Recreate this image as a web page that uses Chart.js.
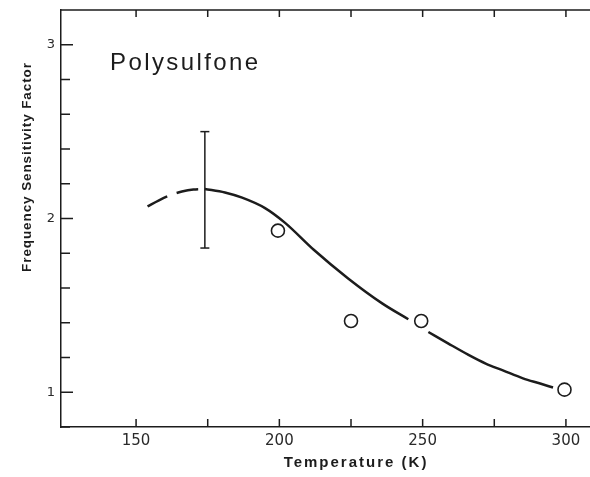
<!DOCTYPE html>
<html>
<head>
<meta charset="utf-8">
<script src="https://cdn.jsdelivr.net/npm/chart.js@4"></script>
<style>
  body { margin: 0; background: #fff; }
  #wrap { width: 590px; height: 477px; position: relative; }
</style>
</head>
<body>
<div id="wrap"><canvas id="chart"></canvas></div>
<script>
// --- data ---
const pointTemp = [199.5, 225, 249.5, 299.5];
const pointFactor = [1.93, 1.41, 1.41, 1.015];

const errTemp = [174, 174];
const errFactor = [1.83, 2.5];

// dashed (extrapolated) part of the fitted curve
const dashTemp = [154, 158, 162, 166, 170, 174];
const dashFactor = [2.07, 2.105, 2.135, 2.155, 2.167, 2.17];

// solid part, broken around the 250 K point
const solidTempA = [174, 181, 187, 195, 202, 212, 224, 236, 245];
const solidFactorA = [2.17, 2.15, 2.12, 2.06, 1.975, 1.82, 1.655, 1.51, 1.42];
const solidTempB = [252, 259, 266, 272, 278, 285, 291, 295.5];
const solidFactorB = [1.347, 1.28, 1.215, 1.165, 1.126, 1.08, 1.05, 1.027];

const xTicks = [150, 175, 200, 225, 250, 275, 300];
const xLabelled = [150, 200, 250, 300];
const yTicks = [0.8, 1.0, 1.2, 1.4, 1.6, 1.8, 2.0, 2.2, 2.4, 2.6, 2.8, 3.0, 3.2];
const yLabelled = [1, 2, 3];

const INK = '#1c1c1c';

function pts(xs, ys) { return xs.map((x, i) => ({ x: x, y: ys[i] })); }

// inward tick marks, top border and free text
const framePlugin = {
  id: 'frame',
  afterDraw(chart) {
    const { ctx, chartArea: a, scales } = chart;
    ctx.save();
    ctx.strokeStyle = INK;
    ctx.lineWidth = 1.5;
    ctx.beginPath();
    ctx.moveTo(a.left, a.top); ctx.lineTo(a.right, a.top);
    scales.x.ticks.forEach(t => {
      const px = scales.x.getPixelForValue(t.value);
      ctx.moveTo(px, a.bottom); ctx.lineTo(px, a.bottom - 8);
      ctx.moveTo(px, a.top); ctx.lineTo(px, a.top + 7);
    });
    scales.y.ticks.forEach(t => {
      const py = scales.y.getPixelForValue(t.value);
      const major = yLabelled.some(v => Math.abs(v - t.value) < 1e-6);
      ctx.moveTo(a.left, py); ctx.lineTo(a.left + (major ? 12 : 9), py);
    });
    ctx.stroke();

    ctx.fillStyle = INK;
    ctx.letterSpacing = '2.4px';
    ctx.font = '24px "Liberation Sans", Arial, sans-serif';
    ctx.textBaseline = 'alphabetic';
    ctx.textAlign = 'left';
    ctx.fillText('Polysulfone', 110, 70);

    ctx.letterSpacing = '2px';
    ctx.font = 'bold 15px "Liberation Sans", Arial, sans-serif';
    ctx.textAlign = 'center';
    ctx.textBaseline = 'middle';
    ctx.fillText('Temperature (K)', 356, 463);

    ctx.translate(27, 167);
    ctx.rotate(-Math.PI / 2);
    ctx.letterSpacing = '0.9px';
    ctx.font = 'bold 13.5px "Liberation Sans", Arial, sans-serif';
    ctx.fillText('Frequency Sensitivity Factor', 0, 0);
    ctx.restore();
  }
};

const line = { borderColor: INK, borderWidth: 2.5, pointRadius: 0, fill: false, cubicInterpolationMode: 'monotone' };

new Chart(document.getElementById('chart'), {
  type: 'scatter',
  data: {
    datasets: [
      Object.assign({ data: pts(dashTemp, dashFactor), showLine: true, borderDash: [22, 10] }, line),
      Object.assign({ data: pts(solidTempA, solidFactorA), showLine: true }, line),
      Object.assign({ data: pts(solidTempB, solidFactorB), showLine: true }, line),
      {
        data: pts(errTemp, errFactor), showLine: true,
        borderColor: INK, borderWidth: 1.5,
        pointStyle: 'line', pointRadius: 4.5, pointBorderWidth: 1.5, pointBorderColor: INK
      },
      {
        data: pts(pointTemp, pointFactor),
        pointStyle: 'circle', pointRadius: 6.5, pointBorderWidth: 1.6,
        pointBorderColor: INK, pointBackgroundColor: 'rgba(0,0,0,0)'
      }
    ]
  },
  options: {
    responsive: true,
    maintainAspectRatio: false,
    animation: false,
    layout: { autoPadding: false, padding: { top: 10, right: 0, left: 0, bottom: 0 } },
    plugins: { legend: { display: false }, tooltip: { enabled: false } },
    scales: {
      x: {
        type: 'linear', min: 123.8, max: 308.4,
        afterBuildTicks: s => { s.ticks = xTicks.map(v => ({ value: v })); },
        afterFit: s => { s.height = 50; s.paddingLeft = 0; s.paddingRight = 0; },
        grid: { drawOnChartArea: false, drawTicks: false },
        border: { display: true, color: INK, width: 1.5 },
        ticks: {
          padding: 5, color: '#2a2a2a', maxRotation: 0, autoSkip: false,
          font: { family: '"DejaVu Sans", sans-serif', size: 15 },
          callback: v => xLabelled.includes(v) ? String(v) : ''
        }
      },
      y: {
        type: 'linear', min: 0.8, max: 3.2,
        afterBuildTicks: s => { s.ticks = yTicks.map(v => ({ value: v })); },
        afterFit: s => { s.width = 61; s.paddingTop = 0; s.paddingBottom = 0; },
        grid: { drawOnChartArea: false, drawTicks: false },
        border: { display: true, color: INK, width: 1.5 },
        ticks: {
          padding: 6, color: '#2a2a2a', autoSkip: false,
          font: { family: '"DejaVu Sans", sans-serif', size: 13 },
          callback: v => {
            const hit = yLabelled.find(k => Math.abs(k - v) < 1e-6);
            return hit === undefined ? '' : String(hit);
          }
        }
      }
    }
  },
  plugins: [framePlugin]
});
</script>
</body>
</html>
